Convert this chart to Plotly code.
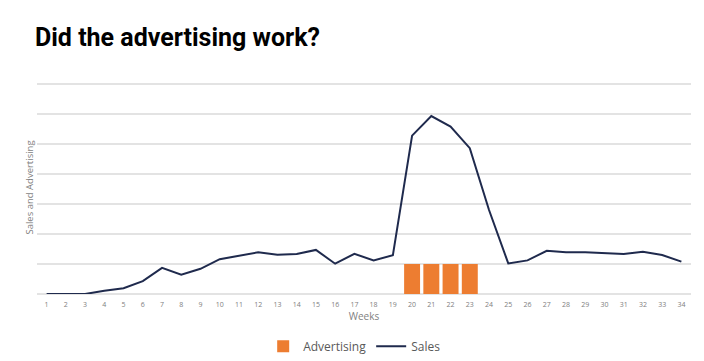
import plotly.graph_objects as go

weeks = [str(i) for i in range(1, 35)]
sales = [0, 0, 0, 0.11, 0.19, 0.43, 0.87, 0.64, 0.84, 1.16, 1.28, 1.39, 1.31, 1.33, 1.47, 1.01, 1.34,
         1.12, 1.29, 5.28, 5.93, 5.58, 4.86, 2.8, 1.02, 1.12, 1.44, 1.39, 1.39, 1.36, 1.33, 1.41, 1.3, 1.08]
advertising = [None] * 19 + [1, 1, 1, 1] + [None] * 11

fig = go.Figure()
fig.add_trace(go.Bar(x=weeks, y=advertising, name="Advertising",
                     marker=dict(color="#ed7d31", line=dict(width=0))))
fig.add_trace(go.Scatter(x=weeks, y=sales, name="Sales", mode="lines",
                         line=dict(color="#1f2a4d", width=2)))

fig.update_layout(
    width=704, height=361,
    margin=dict(l=37, r=13, t=81, b=67, autoexpand=False),
    paper_bgcolor="white", plot_bgcolor="white",
    bargap=0.17,
    title=dict(text="<b>Did the advertising work?</b>", x=35/704, xanchor="left",
               y=1-37/361, yanchor="middle", pad=dict(l=0, r=0, t=0, b=0),
               font=dict(family="Roboto", size=25, color="#000000")),
    xaxis=dict(type="category", showgrid=False, zeroline=False, showline=False,
               automargin=False, ticks="", ticklabelstandoff=5,
               tickfont=dict(family="Open Sans", size=7, color="#808080"),
               title=dict(text="Weeks", font=dict(family="Open Sans", size=10, color="#7f7f7f"),
                          standoff=4)),
    yaxis=dict(range=[0, 7.1], dtick=1, tick0=0, showticklabels=False, showgrid=True,
               automargin=False,
               gridcolor="#e3e3e3", gridwidth=1.5, zeroline=True, zerolinecolor="#e3e3e3",
               zerolinewidth=1.5, showline=False,
               title=dict(text="Sales and Advertising",
                          font=dict(family="Open Sans", size=9.5, color="#7f7f7f"), standoff=0)),
    legend=dict(orientation="h", x=0.485, xanchor="center", y=-0.245, yanchor="middle",
                font=dict(family="Open Sans", size=12, color="#595959"),
                itemwidth=30, traceorder="normal"),
)

fig.write_html("out.html", config={"displayModeBar": False},
               post_script="document.body.style.margin='0';document.body.style.padding='0';")
